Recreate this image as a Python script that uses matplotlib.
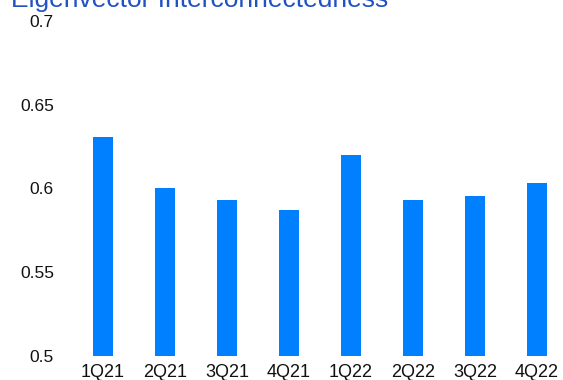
import matplotlib
matplotlib.use('Agg')
import matplotlib.pyplot as plt

plt.rcParams['font.family'] = ['Liberation Sans', 'DejaVu Sans']

quarters = ['1Q21', '2Q21', '3Q21', '4Q21', '1Q22', '2Q22', '3Q22', '4Q22']
values = [0.631, 0.600, 0.593, 0.587, 0.620, 0.593, 0.5955, 0.603]
y_ticks = [0.5, 0.55, 0.6, 0.65, 0.7]
y_tick_labels = ['0.5', '0.55', '0.6', '0.65', '0.7']

W, H = 563, 380
fig = plt.figure(figsize=(W / 100, H / 100), dpi=100)
ax = fig.add_axes([72 / W, 24 / H, (W - 72) / W, 335 / H])

x = range(len(quarters))
ax.bar(x, values, width=0.31, color='#007FFF', zorder=2)

ax.set_ylim(0.5, 0.7)
ax.set_xlim(-0.5, 7.42)
ax.set_yticks(y_ticks)
ax.set_yticklabels(y_tick_labels)
ax.set_xticks(list(x))
ax.set_xticklabels(quarters)
ax.tick_params(axis='y', length=0, pad=13, labelsize=12.5, labelcolor='#111111')
ax.tick_params(axis='x', length=0, pad=5.5, labelsize=13, labelcolor='#111111')
for s in ax.spines.values():
    s.set_visible(False)

fig.text(11 / W, 373 / H, 'Eigenvector Interconnectedness', color='#2152C2',
         fontsize=19, va='baseline', ha='left')

fig.savefig('out.png', dpi=100)
